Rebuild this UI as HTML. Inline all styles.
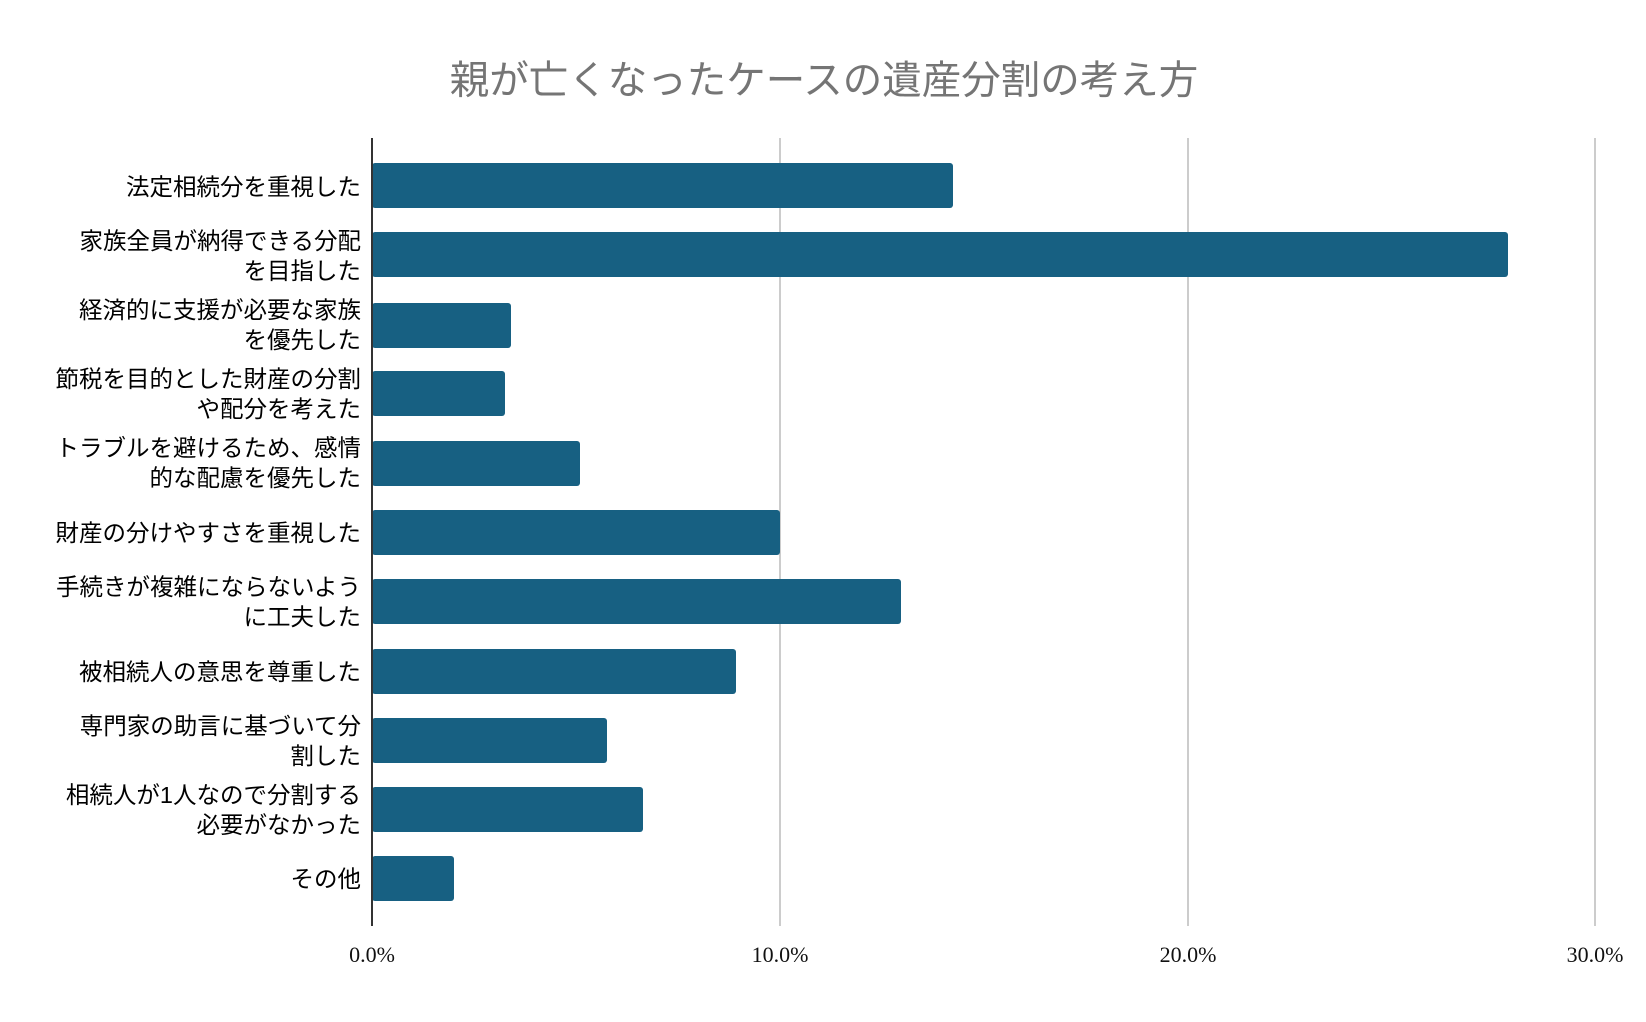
<!DOCTYPE html>
<html><head><meta charset="utf-8"><style>
body{margin:0;background:#fff;width:1646px;height:1017px;overflow:hidden}
</style></head><body>
<svg width="1646" height="1017" xmlns="http://www.w3.org/2000/svg" font-family="'Liberation Sans','Noto Sans CJK JP',sans-serif">
<text x="824" y="94" font-size="39.5" fill="#757575" text-anchor="middle">親が亡くなったケースの遺産分割の考え方</text>
<g stroke="#cccccc" stroke-width="2">
<line x1="780" y1="138" x2="780" y2="926"/>
<line x1="1188" y1="138" x2="1188" y2="926"/>
<line x1="1595" y1="138" x2="1595" y2="926"/>
</g>
<g fill="#176082">
<rect x="372" y="163" width="581" height="45" rx="3"/>
<rect x="372" y="232" width="1136" height="45" rx="3"/>
<rect x="372" y="303" width="139" height="45" rx="3"/>
<rect x="372" y="371" width="133" height="45" rx="3"/>
<rect x="372" y="441" width="208" height="45" rx="3"/>
<rect x="372" y="510" width="408" height="45" rx="3"/>
<rect x="372" y="579" width="529" height="45" rx="3"/>
<rect x="372" y="649" width="364" height="45" rx="3"/>
<rect x="372" y="718" width="235" height="45" rx="3"/>
<rect x="372" y="787" width="271" height="45" rx="3"/>
<rect x="372" y="856" width="82" height="45" rx="3"/>
</g>
<line x1="372" y1="138" x2="372" y2="926" stroke="#333" stroke-width="2"/>
<g font-size="23.5" fill="#000" text-anchor="end">
<text x="361" y="195">法定相続分を重視した</text>
<text x="361" y="249">家族全員が納得できる分配</text><text x="361" y="279">を目指した</text>
<text x="361" y="318">経済的に支援が必要な家族</text><text x="361" y="348">を優先した</text>
<text x="361" y="387">節税を目的とした財産の分割</text><text x="361" y="417">や配分を考えた</text>
<text x="361" y="456">トラブルを避けるため、感情</text><text x="361" y="486">的な配慮を優先した</text>
<text x="361" y="541">財産の分けやすさを重視した</text>
<text x="361" y="595">手続きが複雑にならないよう</text><text x="361" y="625">に工夫した</text>
<text x="361" y="680">被相続人の意思を尊重した</text>
<text x="361" y="734">専門家の助言に基づいて分</text><text x="361" y="764">割した</text>
<text x="361" y="803">相続人が1人なので分割する</text><text x="361" y="833">必要がなかった</text>
<text x="361" y="887">その他</text>
</g>
<g font-size="22" fill="#111" text-anchor="middle" font-family="'Liberation Serif',serif">
<text x="372" y="962">0.0%</text>
<text x="780" y="962">10.0%</text>
<text x="1188" y="962">20.0%</text>
<text x="1595" y="962">30.0%</text>
</g>
</svg>
</body></html>
